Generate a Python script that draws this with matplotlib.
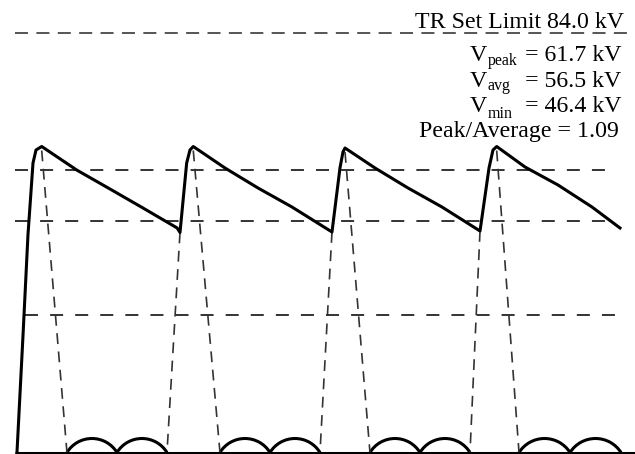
import numpy as np
import matplotlib
matplotlib.use('Agg')
import matplotlib.pyplot as plt
from matplotlib.patches import Arc

plt.rcParams['font.family'] = ['Liberation Serif', 'DejaVu Serif']

# precipitator voltage sketch, time in ms, voltage in kV
wave_t = [0.0, 1.05, 1.83, 2.67, 3.17, 4.12,
          9.95, 15.5, 21.0, 26.7, 27.17,
          28.28, 28.83, 29.38,
          34.67, 40.17, 45.83, 52.5,
          53.83, 54.33, 54.67,
          59.67, 65.17, 70.83, 77.17,
          78.67, 79.33, 79.95,
          84.67, 90.17, 95.83, 100.5]
wave_v = [0.0, 24.5, 43.5, 57.9, 60.5, 61.2,
          56.5, 52.7, 48.9, 44.9, 44.0,
          57.9, 60.5, 61.2,
          56.9, 52.9, 49.1, 44.1,
          56.9, 60.1, 60.9,
          56.9, 52.9, 49.1, 44.3,
          56.9, 60.5, 61.2,
          57.1, 53.5, 49.1, 44.9]

peak_t = [4.12, 29.38, 54.67, 79.95]
peak_v = [61.2, 61.2, 60.9, 61.2]
trough_t = [27.17, 52.5, 77.17]
trough_v = [44.0, 44.1, 44.3]

# current pulses (two half cycles each)
pulse_start = [8.33, 33.83, 58.83, 83.67]
pulse_end = [25.0, 50.5, 75.5, 100.67]
hump_h = 2.8

# reference levels
tr_limit = 84.0
v_avg = 56.5
v_min = 46.4
v_low = 27.5

labels = ['peak', 'avg', 'min']
values = ['61.7', '56.5', '46.4']
ratio = '1.09'

fig = plt.figure(figsize=(6.35, 4.54), dpi=100)
ax = fig.add_axes([0, 0, 1, 1])
xlim = (-2.83, 103.0)
ylim = (-0.3, 90.5)
ax.set_xlim(xlim)
ax.set_ylim(ylim)
ax.axis('off')

dash_c = '#333333'
ax.plot([-0.33, 103.0], [tr_limit] * 2, color='#555555', lw=1.4, dashes=(6.7, 4.3))
ax.plot([-0.33, 100.0], [v_avg] * 2, color=dash_c, lw=1.4, dashes=(6.7, 6.2))
ax.plot([-0.33, 100.0], [v_min] * 2, color=dash_c, lw=1.4, dashes=(6.7, 6.2))
ax.plot([1.33, 100.2], [v_low] * 2, color=dash_c, lw=1.4, dashes=(6.7, 6.2))

for i in range(len(peak_t)):
    ax.plot([peak_t[i], pulse_start[i]], [peak_v[i] - 0.8, 0], color=dash_c, lw=1.2, dashes=(6.5, 4.5))
for i in range(len(trough_t)):
    ax.plot([trough_t[i], pulse_end[i]], [trough_v[i], 0], color=dash_c, lw=1.2, dashes=(6.5, 4.5))

# baseline
ax.plot([-0.33, 103.0], [0, 0], color='black', lw=2.2, solid_capstyle='butt')

# waveform
ax.plot(wave_t, wave_v, color='black', lw=2.2, solid_joinstyle='round')

# humps drawn as circle segments in screen space
px_x = 635 / (xlim[1] - xlim[0])
px_y = 454 / (ylim[1] - ylim[0])
for s, e in zip(pulse_start, pulse_end):
    hc = (e - s) / 2
    c = hc * px_x
    sg = hump_h * px_y
    R = (c ** 2 / 4 + sg ** 2) / (2 * sg)
    a = np.arcsin(c / 2 / R)
    t1 = np.pi / 2 - a
    th1 = np.degrees(np.arctan2(np.sin(t1) / px_y, np.cos(t1) / px_x))
    for k in range(2):
        cx = s + hc * (k + 0.5)
        cy = -(R - sg) / px_y
        ax.add_patch(Arc((cx, cy), 2 * R / px_x, 2 * R / px_y,
                         theta1=th1, theta2=180 - th1, color='black', lw=2.2))

fs = 17.2
sub_fs = 11.5
ax.text(101.17, 84.96, 'TR Set Limit 84.0 kV', ha='right', va='baseline', fontsize=fs)
v_base = [78.3, 73.16, 68.1]
sub_base = [77.5, 72.5, 66.9]
for lab, val, yb, ys in zip(labels, values, v_base, sub_base):
    ax.text(75.5, yb, 'V', ha='left', va='baseline', fontsize=fs)
    ax.text(78.5, ys, lab, ha='left', va='baseline', fontsize=sub_fs)
    ax.text(100.67, yb, '= %s kV' % val, ha='right', va='baseline', fontsize=fs)
ax.text(100.33, 63.1, 'Peak/Average = %s' % ratio, ha='right', va='baseline', fontsize=fs)

fig.savefig('out.png', dpi=100)
